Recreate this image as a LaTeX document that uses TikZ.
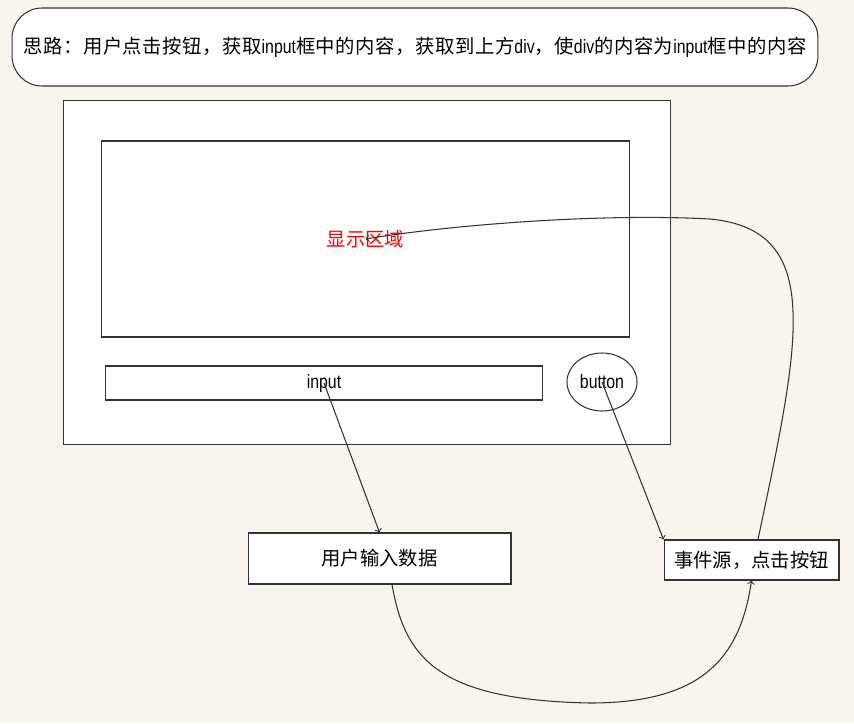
\documentclass[tikz,border=0pt]{standalone}
\usepackage{fontspec}
\setmainfont{Noto Sans CJK SC}
\newfontfamily\spacedfont[LetterSpace=3]{Noto Sans CJK SC}
\newfontfamily\narrowfont[FakeStretch=0.82]{Liberation Sans}
\usetikzlibrary{shapes}
\usetikzlibrary{arrows}
\definecolor{paper}{HTML}{F8F5EE}
\definecolor{ink}{HTML}{333333}
\tikzset{
  box/.style={draw=ink, fill=white, line width=0.6pt, inner sep=0pt, font=\fontsize{11}{13}\selectfont},
  latin/.style={font=\narrowfont\fontsize{11}{13}\selectfont},
  flow/.style={draw=ink, line width=0.6pt, ->, >=to}
}

\begin{document}
\begin{tikzpicture}[x=0.02cm, y=-0.02cm]

%Background
\fill [paper] (0,0) rectangle (854,723);

%Title
\node [box, rounded corners=0.6cm, minimum width=16.12cm, minimum height=1.56cm, font=\spacedfont\fontsize{11}{13}\selectfont] (idea) at (415,47)
  {思路：用户点击按钮，获取{\narrowfont input}框中的内容，获取到上方{\narrowfont div}，使{\narrowfont div}的内容为{\narrowfont input}框中的内容};

%Page
\node [box, minimum width=12.16cm, minimum height=6.9cm] (page) at (367,272.5) {};
\node [box, minimum width=10.58cm, minimum height=3.92cm, text=red] (display) at (365.5,239) {显示区域};
\node [box, latin, minimum width=8.76cm, minimum height=0.68cm] (inputbox) at (324,383) {input};
\node [box, latin, ellipse, minimum width=1.4cm, minimum height=1.16cm] (button) at (602,382) {button};

%Steps
\node [box, minimum width=5.26cm, minimum height=1.02cm] (userbox) at (379.5,558.5) {用户输入数据};
\node [box, minimum width=3.5cm, minimum height=0.8cm] (eventbox) at (751.5,560) {事件源，点击按钮};

%Arrows
\draw [flow] (inputbox.center) -- (userbox.north);
\draw [flow] (button.center) -- (eventbox.north west);
\draw [flow] ([xshift=0.25cm]userbox.south) .. controls (405,660) and (440,700) .. (590,703)
  .. controls (700,703) and (740,660) .. (eventbox.south);
\draw [flow] ([xshift=0.13cm]eventbox.north) .. controls (800,340) and (825,230) .. (710,219)
  .. controls (600,213) and (450,225) .. (display.center);

\end{tikzpicture}
\end{document}
